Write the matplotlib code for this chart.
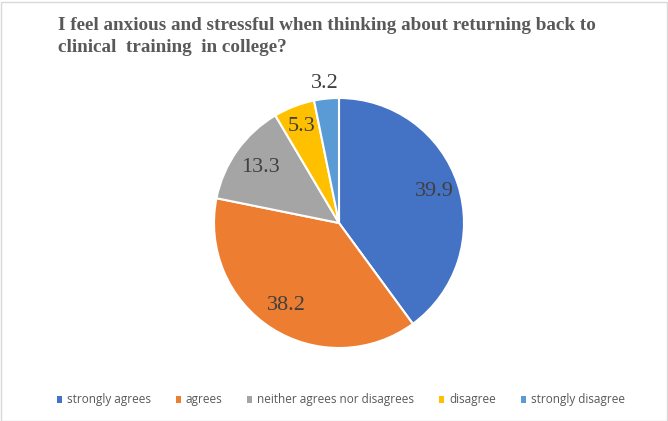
import numpy as np
import matplotlib
matplotlib.use("Agg")
import matplotlib.pyplot as plt
from matplotlib.patches import Rectangle

categories = ["strongly agrees", "agrees", "neither agrees nor disagrees",
              "disagree", "strongly disagree"]
values = [39.9, 38.2, 13.3, 5.3, 3.2]
colors = ["#4472C4", "#ED7D31", "#A5A5A5", "#FFC000", "#5B9BD5"]
label_dist = [0.8, 0.78, 0.77, 0.83, 1.12]

title = ("I feel anxious and stressful when thinking about returning back to\n"
         "clinical  training  in college?")

W, H = 668, 421
fig = plt.figure(figsize=(W / 100, H / 100), dpi=100)
fig.patch.set_facecolor("white")

# light border round the chart area
fig.add_artist(Rectangle((0.5 / W, 0.5 / H), 1 - 2 / W, 1 - 2 / H,
                         transform=fig.transFigure, fill=False,
                         edgecolor="#D9D9D9", lw=1))

fig.text(58 / W, 1 - 17 / H, title, ha="left", va="top",
         family="Liberation Serif", weight="bold", fontsize=13.8,
         color="#595959", linespacing=1.35)

cx, cy, r = 339, 421 - 223, 125
ax = fig.add_axes([(cx - r) / W, (cy - r) / H, 2 * r / W, 2 * r / H])
wedges, _ = ax.pie(values, colors=colors, startangle=90, counterclock=False,
                   radius=1, wedgeprops=dict(edgecolor="white", linewidth=1.5))
ax.set_xlim(-1, 1)
ax.set_ylim(-1, 1)
ax.set_aspect("auto")
ax.axis("off")

for w, v, d in zip(wedges, values, label_dist):
    ang = np.deg2rad((w.theta1 + w.theta2) / 2)
    ax.text(d * np.cos(ang), d * np.sin(ang), f"{v}", ha="center", va="center",
            family="Liberation Serif", fontsize=16, color="#404040", clip_on=False)

handles = [Rectangle((0, 0), 1, 1, facecolor=c) for c in colors]
fig.legend(handles, categories, loc="center", bbox_to_anchor=(0.51, 1 - 400 / H),
           ncol=5, frameon=False, handlelength=0.45, handleheight=0.6,
           handletextpad=0.4, columnspacing=2.1,
           prop=dict(family="Open Sans", size=8.5), labelcolor="#595959")

fig.savefig("out.png", dpi=100)
